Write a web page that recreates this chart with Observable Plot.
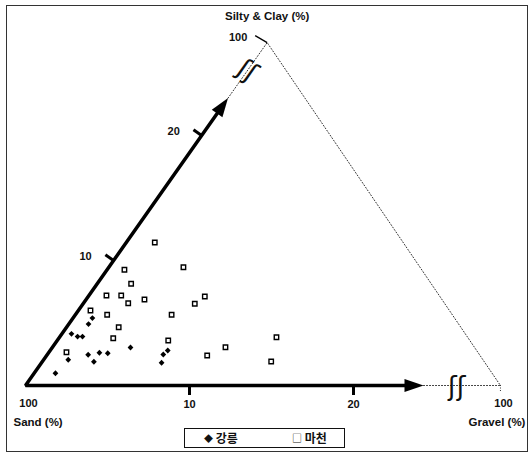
<!DOCTYPE html>
<html><head><meta charset="utf-8">
<script src="https://cdn.jsdelivr.net/npm/d3@7"></script>
<script src="https://cdn.jsdelivr.net/npm/@observablehq/plot@0.6"></script>
<style>
body{margin:0;background:#fff;font-family:"Liberation Sans",Arial,sans-serif;}
#frame{position:absolute;left:6px;top:5px;width:522px;height:447px;border:1px solid #333;box-sizing:border-box;pointer-events:none;z-index:2;}
#chart{position:absolute;left:0;top:0;z-index:1;}
#legend{position:absolute;left:184px;top:428px;width:161px;height:20px;border:1px solid #111;box-sizing:border-box;background:#fff;z-index:3;
 font-family:"Noto Sans CJK KR",sans-serif;font-size:12px;font-weight:bold;color:#111;}
#legend span{position:absolute;top:0px;line-height:18px;white-space:nowrap;}
</style></head>
<body>
<div id="frame"></div>
<div id="chart"></div>
<div id="legend"><span style="left:19px"><span style="position:static;font-size:9px;vertical-align:1px">◆</span> 강릉</span><span style="left:107px"><span style="position:static;font-size:10px;font-weight:normal;vertical-align:1px">□</span> 마천</span></div>
<script>
// ---- data ----
const seriesNames = ["강릉", "마천"];
const gangGravel = [0.58,1.07,1.37,1.20,1.18,1.50,1.30,2.50,3.15,3.10,3.63,4.77,7.07,7.17,7.32];
const gangSilt   = [4.14,3.92,3.92,4.92,5.40,2.06,0.98,2.46,1.90,2.62,2.58,3.04,2.48,2.80,1.82];
const macheonGravel = [1.74,1.06,4.55,2.07,1.07,1.97,2.73,3.56,7.11,6.81,0.74,1.94,5.87,3.18,3.32,6.77,1.07,9.79,10.55,13.23,13.95];
const macheonSilt   = [11.44,9.26,9.46,8.14,7.20,7.20,6.58,6.88,7.12,6.54,6.00,5.66,5.66,4.66,3.78,3.60,2.66,2.40,3.06,3.86,1.92];
const tickValues = [10, 20];
const endLabel = "100";
const axisTitles = {sand: "Sand (%)", gravel: "Gravel (%)", silt: "Silty & Clay (%)"};

// ---- geometry of the skewed (broken) triangle axes, in axis units ----
const GRAVEL_END = 28.96, SILT_END = 27.44;   // broken "100" vertices
const GRAVEL_ARROW = 24.27, SILT_ARROW = 23.0; // arrow tips
const GRAVEL_BREAK = 26.3, SILT_BREAK = 25.2;  // break marks
const SKEW_X = 0.537, SKEW_Y = 0.762;          // silt axis direction
const xy = (g, s) => ({x: g + SKEW_X * s, y: SKEW_Y * s});

const W = 531, H = 428, PX = 16.4, ML = 25, MB = H - 385;

const gang = gangGravel.map((g, i) => ({...xy(g, gangSilt[i]), site: seriesNames[0]}));
const mach = macheonGravel.map((g, i) => ({...xy(g, macheonSilt[i]), site: seriesNames[1]}));

const corner = xy(0, 0), gEnd = xy(GRAVEL_END, 0), sEnd = xy(0, SILT_END);
const gTip = xy(GRAVEL_ARROW, 0), sTip = xy(0, SILT_ARROW);
const gBase = xy(GRAVEL_ARROW - 0.7, 0), sBase = xy(0, SILT_ARROW - 0.8);

// perpendicular (outward) tick vectors in axis units
const tLen = 10 / PX;
const leftPerp = {dx: -0.817 * tLen, dy: 0.576 * tLen};
const bTicks = tickValues.map(v => ({...xy(v, 0), label: String(v)}));
const lTicks = tickValues.map(v => {const p = xy(0, v); return {...p, x2: p.x + leftPerp.dx, y2: p.y + leftPerp.dy, label: String(v)};});

const arrowHead = {draw(ctx) {ctx.moveTo(0, 0); ctx.lineTo(-19, -6.5); ctx.lineTo(-19, 6.5); ctx.closePath();}};
const txt = {fontWeight: "bold", fill: "#111"};

const chart = Plot.plot({
  width: W, height: H,
  marginLeft: ML, marginRight: 0, marginTop: 0, marginBottom: MB,
  x: {domain: [0, (W - ML) / PX], axis: null},
  y: {domain: [0, (H - MB) / PX], axis: null},
  style: {fontFamily: "'Liberation Sans', Arial, sans-serif", fontSize: "11px", color: "#111", background: "transparent"},
  marks: [
    // dotted continuations and hypotenuse
    Plot.line([gTip, gEnd], {x: "x", y: "y", stroke: "#333", strokeWidth: 1, strokeDasharray: "1,2"}),
    Plot.line([sTip, sEnd, gEnd], {x: "x", y: "y", stroke: "#333", strokeWidth: 1, strokeDasharray: "1,2"}),
    // thick axes
    Plot.line([gBase, corner, sBase], {x: "x", y: "y", stroke: "#000", strokeWidth: 3.5, strokeLinejoin: "miter"}),
    Plot.dot([gTip], {x: "x", y: "y", symbol: arrowHead, fill: "#000", rotate: 0}),
    Plot.dot([sTip], {x: "x", y: "y", symbol: arrowHead, fill: "#000", rotate: -54.8}),
    // break marks
    Plot.text([xy(GRAVEL_BREAK, 0)], {x: "x", y: "y", text: () => "ʃʃ", fontSize: 26, fontFamily: "DejaVu Sans", fill: "#111", dy: 1}),
    Plot.text([xy(0, SILT_BREAK)], {x: "x", y: "y", text: () => "ʃʃ", fontSize: 26, fontFamily: "DejaVu Sans", fill: "#111", rotate: 35}),
    // ticks
    Plot.ruleX(bTicks, {x: "x", y1: 0, y2: -10 / PX, stroke: "#000", strokeWidth: 3}),
    Plot.link(lTicks, {x1: "x", y1: "y", x2: "x2", y2: "y2", stroke: "#000", strokeWidth: 3}),
    Plot.ruleX([gEnd], {x: "x", y1: 0, y2: -7 / PX, stroke: "#333", strokeWidth: 1, strokeDasharray: "1,1.5"}),
    Plot.link([sEnd], {x1: "x", y1: "y", x2: d => d.x - 12 / PX, y2: d => d.y + 7 / PX, stroke: "#000", strokeWidth: 1.3}),
    // tick labels
    Plot.text(bTicks, {x: "x", y: "y", text: "label", dy: 19, ...txt}),
    Plot.text(lTicks, {x: "x", y: "y", text: "label", dx: -28, dy: -4, ...txt}),
    Plot.text([corner, gEnd], {x: "x", y: "y", text: () => endLabel, dy: 18, dx: 3, ...txt}),
    Plot.text([sEnd], {x: "x", y: "y", text: () => endLabel, dx: -29, dy: -5, ...txt}),
    // axis titles
    Plot.text([corner], {x: "x", y: "y", text: () => axisTitles.sand, textAnchor: "start", dx: -12, dy: 37, fontSize: 11.5, letterSpacing: 0.6, ...txt}),
    Plot.text([gEnd], {x: "x", y: "y", text: () => axisTitles.gravel, textAnchor: "end", dx: 25, dy: 37, fontSize: 11.5, letterSpacing: 0.6, ...txt}),
    Plot.text([sEnd], {x: "x", y: "y", text: () => axisTitles.silt, dy: -26, fontSize: 11.5, letterSpacing: 0.6, ...txt}),
    // data
    Plot.dot(mach, {x: "x", y: "y", symbol: "square", r: 2.5, fill: "#fff", stroke: "#000", strokeWidth: 1.4}),
    Plot.dot(gang, {x: "x", y: "y", symbol: "diamond2", r: 2.6, fill: "#000"})
  ]
});
document.getElementById("chart").appendChild(chart);
</script>
</body></html>
